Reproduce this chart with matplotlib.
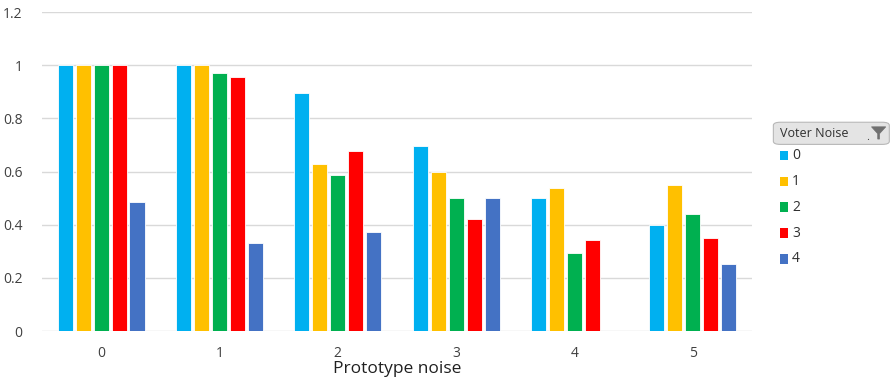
import numpy as np
import matplotlib.pyplot as plt
from matplotlib.patches import FancyBboxPatch, Polygon, Rectangle

plt.rcParams['font.family'] = ['Open Sans', 'DejaVu Sans']

groups = ['0', '1', '2', '3', '4', '5']
series = ['0', '1', '2', '3', '4']
colors = ['#00B0F0', '#FFC000', '#00B050', '#FF0000', '#4472C4']

# accuracy per voter-noise level, one list per series across prototype noise groups
noise_0 = [1.0, 1.0, 0.894, 0.695, 0.5, 0.399]
noise_1 = [1.0, 1.0, 0.628, 0.598, 0.539, 0.549]
noise_2 = [1.0, 0.97, 0.588, 0.5, 0.292, 0.44]
noise_3 = [1.0, 0.956, 0.676, 0.42, 0.342, 0.349]
noise_4 = [0.484, 0.332, 0.374, 0.5, np.nan, 0.251]
values = [noise_0, noise_1, noise_2, noise_3, noise_4]

fig = plt.figure(figsize=(8.92, 3.82), dpi=100)
ax = fig.add_axes([0.047, 0.1335, 0.796, 0.835])

x = np.arange(len(groups))
pitch = 0.152
width = 0.128
for i, (vals, col) in enumerate(zip(values, colors)):
    ax.bar(x + (i - 2) * pitch, vals, width=width, color=col,
           edgecolor='white', linewidth=0.6, zorder=3)

ax.set_xlim(-0.5, 5.5)
ax.set_ylim(0, 1.2)
ax.set_yticks([0, 0.2, 0.4, 0.6, 0.8, 1.0, 1.2])
ax.set_yticklabels(['0', '0.2', '0.4', '0.6', '0.8', '1', '1.2'])
ax.set_xticks(x)
ax.set_xticklabels(groups)
ax.grid(axis='y', color='#D9D9D9', linewidth=1, zorder=0)
for s in ax.spines.values():
    s.set_visible(False)
ax.tick_params(length=0, labelsize=10, colors='#404040', pad=11)
ax.tick_params(axis='y', pad=14)
ax.set_xlabel('Prototype noise', fontsize=12.5, color='#202020', labelpad=0)

# slicer-style legend header
hdr = FancyBboxPatch((0.867, 0.622), 0.130, 0.058,
                     boxstyle='round,pad=0.0,rounding_size=0.008',
                     transform=fig.transFigure, facecolor='#E4E4E4',
                     edgecolor='#B8B8B8', linewidth=0.8)
fig.patches.append(hdr)
fig.text(0.874, 0.651, 'Voter Noise', fontsize=9, color='#303030', va='center')
funnel = Polygon([[0.977, 0.668], [0.993, 0.668], [0.986, 0.650],
                  [0.986, 0.636], [0.984, 0.636], [0.984, 0.650]],
                 closed=True, transform=fig.transFigure,
                 facecolor='#707070', edgecolor='#707070', linewidth=0.5)
fig.patches.append(funnel)
fig.text(0.971, 0.640, '.', fontsize=8, color='#404040', va='center')

rows_y = [0.592, 0.524, 0.458, 0.390, 0.322]
for name, col, yy in zip(series, colors, rows_y):
    fig.patches.append(Rectangle((0.874, yy - 0.012), 0.0095, 0.024,
                                 transform=fig.transFigure, facecolor=col,
                                 edgecolor='none'))
    fig.text(0.888, yy, name, fontsize=10, color='#303030', va='center')

fig.savefig('out.png', dpi=100, facecolor='white')
